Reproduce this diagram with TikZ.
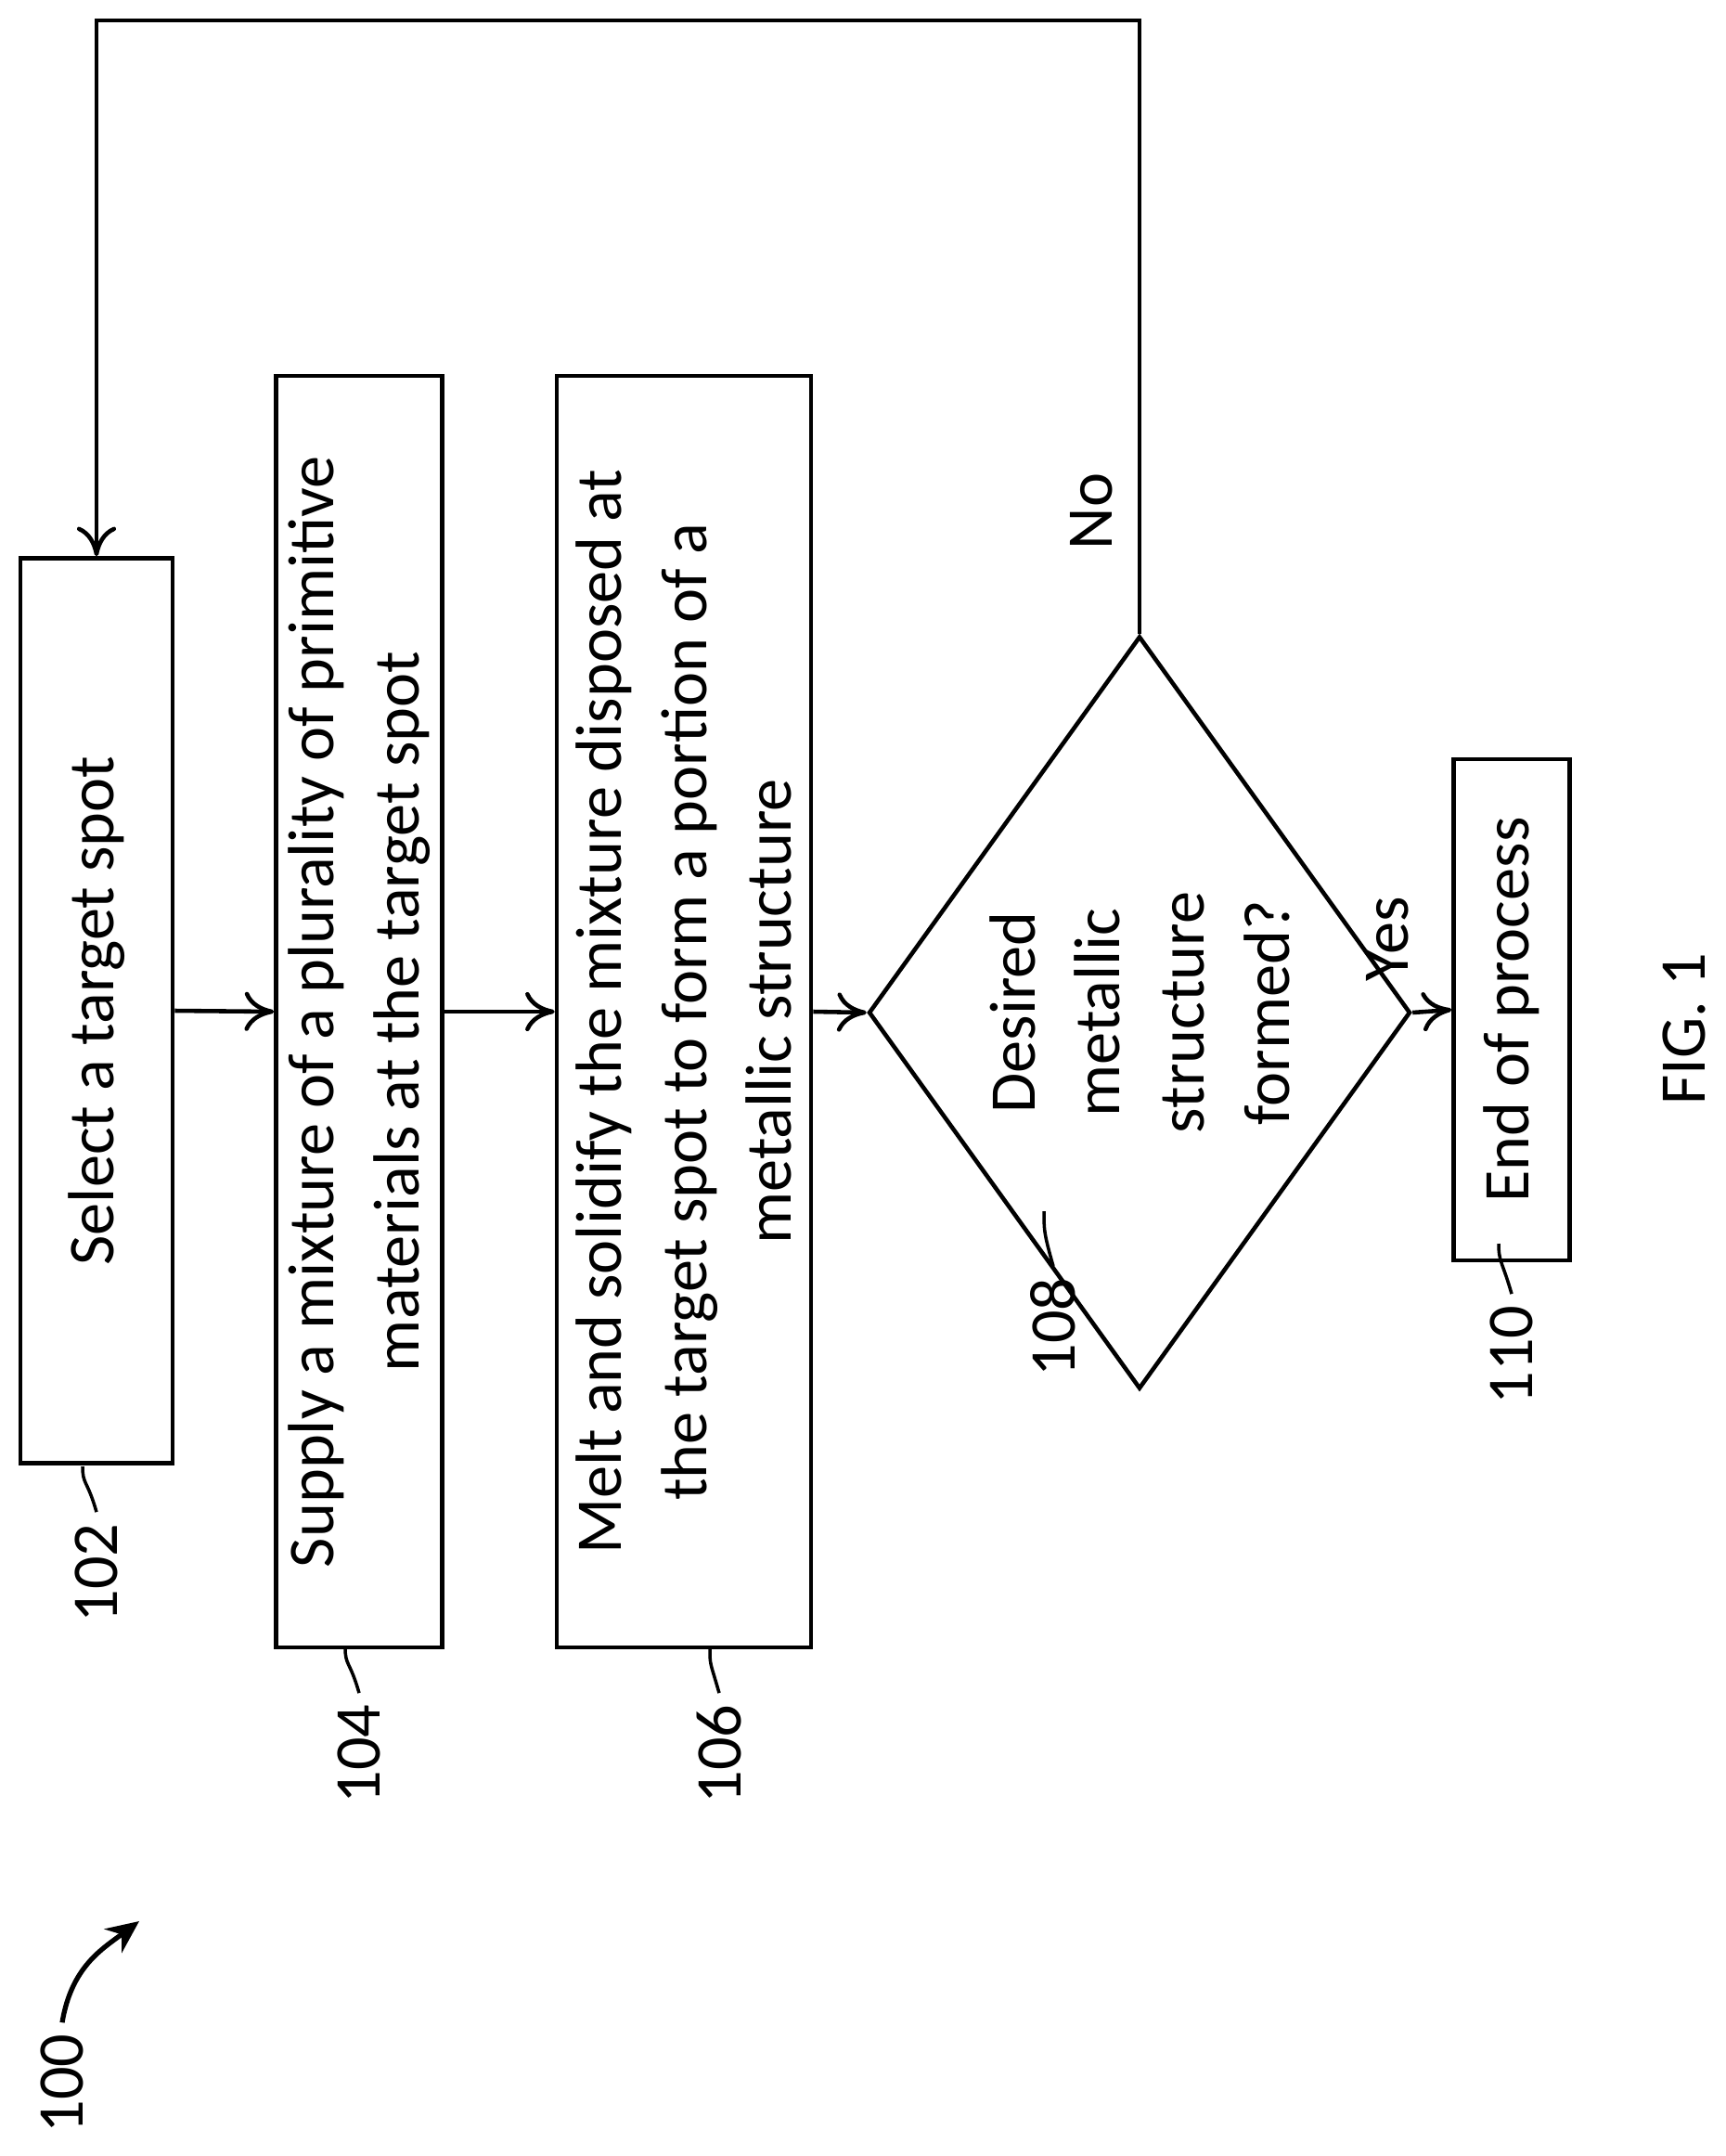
\documentclass[tikz,border=0pt]{standalone}
\usepackage{fontspec}
\setmainfont{Carlito}
\usetikzlibrary{shapes.geometric,arrows.meta}
\tikzset{
  procbox/.style={draw, line width=1.3pt, rotate=90, inner sep=2pt, align=center,
               font=\fontsize{20}{26}\selectfont},
  flow/.style={line width=1.3pt, -{To[length=9pt,width=12pt]}},
  refno/.style={rotate=90, font=\fontsize{20}{24}\selectfont},
  hook/.style={line width=1pt}
}
\begin{document}
\begin{tikzpicture}
  \useasboundingbox (0,0) rectangle (18.6,-23.23);

  % Process steps
  \node[procbox, minimum width=9.75cm, minimum height=1.64cm] (s102) at (1.04,-10.89) {Select a target spot};
  \node[procbox, minimum width=13.70cm, minimum height=1.79cm] (s104) at (3.87,-10.90)
       {Supply a mixture of a plurality of primitive\\materials at the target spot};
  \node[procbox, minimum width=13.70cm, minimum height=2.74cm] (s106) at (7.37,-10.90)
       {Melt and solidify the mixture disposed at\\the target spot to form a portion of a\\metallic structure};
  \node[procbox, diamond, minimum width=8.11cm, minimum height=3.98cm, inner sep=0pt] (s108) at (12.28,-10.91)
       {Desired\\metallic\\structure\\formed?};
  \node[procbox, minimum width=5.40cm, minimum height=1.25cm] (s110) at (16.29,-10.88) {End of process};

  % Connections
  \draw[flow] (s102.south) -- (s104.north);
  \draw[flow] (s104.south) -- (s106.north);
  \draw[flow] (s106.south) -- (s108.north);
  \draw[flow] (s108.south) -- (s110.north);
  \draw[flow] (s108.east) -- (s108.east |- 0,-0.22) -| (s102.east);
  \node[refno] (yes) at (14.95,-10.12) {Yes};
  \node[refno] (no) at (11.76,-5.51) {No};

  % Reference numerals
  \node[refno] (l102) at (1.04,-16.95) {102};
  \node[refno] (l104) at (3.87,-18.90) {104};
  \node[refno] (l106) at (7.75,-18.90) {106};
  \node[refno] (l108) at (11.35,-14.30) {108};
  \node[refno] (l110) at (16.29,-14.60) {110};
  \node[refno] (l100) at (0.67,-22.45) {100};
  \node[rotate=90, font=\fontsize{20}{24}\selectfont] (fig) at (18.15,-11.09) {FIG. 1};

  \coordinate (h102) at (0.89,-15.80);
  \coordinate (h104) at (3.72,-17.75);
  \coordinate (h106) at (7.65,-17.75);
  \coordinate (h108) at (11.25,-13.05);
  \coordinate (h110) at (16.15,-13.40);
  \foreach \n in {102,104,106,108,110} {
    \draw[hook] (l\n.east) .. controls +(-0.1,0.35) and +(0,-0.2) .. (h\n);
  }
  \draw[line width=1.5pt, -{Stealth[length=10pt,width=9pt]}] (l100.east)
       .. controls +(0.1,0.6) and +(-0.4,-0.3) .. (1.50,-20.70);
\end{tikzpicture}
\end{document}
